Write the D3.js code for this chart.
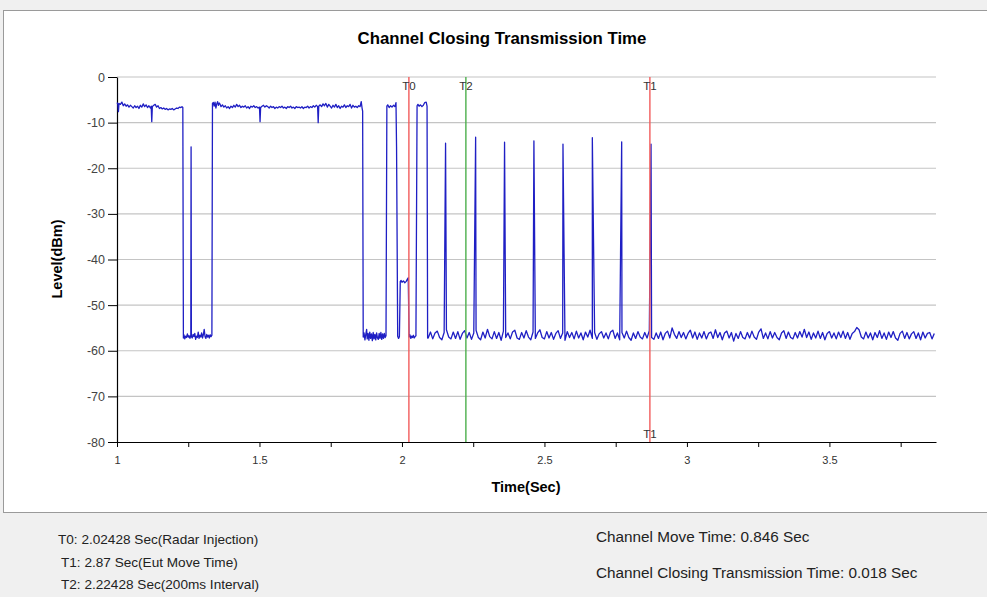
<!DOCTYPE html>
<html><head><meta charset="utf-8">
<script src="https://cdn.jsdelivr.net/npm/d3@7"></script>
<style>
html,body{margin:0;padding:0;background:#f0f0f0;}
svg{display:block;font-family:"Liberation Sans",Arial,sans-serif;}
</style></head>
<body>
<svg id="c" width="987" height="597"></svg>
<script>
// ---------- DATA ----------
const chartTitle = "Channel Closing Transmission Time";
const xDomain = [1, 3.874];
const yDomain = [-80, 0];
const xTickValues = [1, 1.25, 1.5, 1.75, 2, 2.25, 2.5, 2.75, 3, 3.25, 3.5, 3.75];
const xTickLabels = ["1", "", "1.5", "", "2", "", "2.5", "", "3", "", "3.5", ""];
const yTickValues = [0, -10, -20, -30, -40, -50, -60, -70, -80];
const yTickLabels = ["0", "-10", "-20", "-30", "-40", "-50", "-60", "-70", "-80"];

// Trace, first part: [time (s), level (dBm)]
const traceHead = [
[1.000,-5.6],[1.003,-5.9],[1.005,-7.6],[1.007,-5.8],[1.012,-6.0],[1.017,-5.5],[1.022,-6.3],[1.027,-5.9],
[1.032,-6.4],[1.037,-6.1],[1.042,-6.6],[1.047,-6.2],[1.052,-6.5],[1.057,-6.8],[1.062,-6.3],[1.067,-6.7],
[1.072,-6.4],[1.077,-6.9],[1.082,-6.2],[1.087,-6.6],[1.092,-5.9],[1.097,-6.5],[1.102,-6.1],[1.107,-6.7],
[1.112,-6.3],[1.117,-6.8],[1.120,-6.4],[1.122,-9.8],[1.124,-6.5],[1.129,-6.2],[1.134,-6.0],[1.139,-6.6],
[1.144,-6.3],[1.149,-6.9],[1.154,-6.7],[1.159,-7.0],[1.164,-6.8],[1.169,-7.1],[1.174,-6.9],[1.179,-7.2],
[1.184,-7.0],[1.189,-7.1],[1.194,-6.9],[1.199,-7.2],[1.204,-7.0],[1.209,-6.8],[1.214,-6.9],[1.219,-6.6],
[1.224,-6.7],[1.228,-6.5],[1.231,-6.7],[1.233,-57.2],
[1.235,-56.5],[1.238,-57.4],[1.241,-56.8],[1.244,-57.1],[1.247,-56.3],[1.250,-57.0],[1.253,-56.7],[1.256,-57.3],
[1.259,-56.6],[1.260,-15.3],[1.261,-56.9],[1.264,-57.2],[1.267,-56.4],[1.270,-56.9],[1.273,-56.2],[1.276,-57.5],
[1.279,-56.8],[1.282,-57.1],[1.285,-55.9],[1.288,-57.3],[1.291,-56.6],[1.294,-57.0],[1.297,-56.1],[1.300,-57.2],
[1.303,-56.5],[1.306,-55.3],[1.309,-56.9],[1.312,-57.3],[1.315,-56.4],[1.318,-57.0],[1.321,-56.6],[1.324,-57.2],
[1.327,-56.5],[1.330,-56.9],[1.333,-56.6],[1.335,-5.8],
[1.338,-5.6],[1.341,-6.4],[1.344,-5.5],[1.347,-6.8],[1.350,-5.9],[1.353,-5.4],[1.356,-6.2],[1.359,-5.7],
[1.362,-6.0],[1.365,-6.5],[1.370,-6.1],[1.375,-6.6],[1.380,-6.3],[1.385,-6.8],[1.390,-6.5],[1.395,-6.9],
[1.400,-6.4],[1.405,-6.7],[1.410,-6.2],[1.415,-6.6],[1.420,-6.0],[1.425,-6.5],[1.430,-6.2],[1.435,-6.7],
[1.440,-6.4],[1.445,-6.6],[1.450,-6.3],[1.455,-6.8],[1.460,-6.5],[1.465,-6.9],[1.470,-6.4],[1.475,-6.6],
[1.480,-6.3],[1.485,-6.7],[1.490,-6.5],[1.495,-6.8],[1.500,-6.6],[1.502,-9.8],[1.504,-6.7],[1.509,-6.4],
[1.514,-6.2],[1.519,-6.6],[1.524,-6.3],[1.529,-6.5],[1.534,-6.8],[1.539,-6.4],[1.544,-6.7],[1.549,-6.5],
[1.554,-6.9],[1.559,-6.6],[1.564,-6.8],[1.569,-6.5],[1.574,-6.7],[1.579,-6.4],[1.584,-6.8],[1.589,-6.6],
[1.594,-6.9],[1.599,-6.5],[1.604,-6.7],[1.609,-6.4],[1.614,-6.8],[1.619,-6.6],[1.624,-6.9],[1.629,-6.5],
[1.634,-6.7],[1.639,-6.6],[1.644,-6.8],[1.649,-6.5],[1.654,-6.9],[1.659,-6.6],[1.664,-6.7],[1.669,-6.4],
[1.674,-6.8],[1.679,-6.5],[1.684,-6.7],[1.689,-6.3],[1.694,-6.6],[1.699,-6.2],[1.704,-6.5],[1.706,-10.0],
[1.708,-6.4],[1.713,-6.1],[1.718,-6.5],[1.723,-5.9],[1.728,-6.3],[1.733,-5.8],[1.738,-6.6],[1.743,-6.0],
[1.748,-6.4],[1.753,-6.8],[1.758,-6.2],[1.763,-6.6],[1.768,-6.0],[1.773,-6.7],[1.778,-6.3],[1.783,-6.9],
[1.788,-6.4],[1.793,-6.6],[1.798,-6.1],[1.803,-6.7],[1.808,-6.3],[1.813,-6.5],[1.818,-6.0],[1.823,-6.8],
[1.828,-6.2],[1.833,-6.6],[1.838,-6.4],[1.843,-6.7],[1.848,-6.3],[1.853,-6.5],[1.857,-5.4],[1.860,-6.8],
[1.862,-7.5],[1.864,-57.0],
[1.867,-56.1],[1.870,-57.6],[1.873,-56.4],[1.876,-55.3],[1.878,-57.4],[1.881,-56.2],[1.884,-57.7],[1.887,-55.9],
[1.890,-57.3],[1.893,-56.3],[1.896,-57.8],[1.899,-56.0],[1.902,-57.4],[1.905,-56.4],[1.908,-57.6],[1.911,-56.1],
[1.914,-57.2],[1.917,-57.5],[1.920,-56.2],[1.923,-57.3],[1.926,-56.0],[1.929,-57.5],[1.932,-56.3],[1.935,-57.3],
[1.938,-56.2],[1.941,-57.1],[1.944,-56.7],[1.947,-6.4],
[1.950,-6.1],[1.955,-6.7],[1.960,-6.3],[1.965,-6.6],[1.970,-6.2],[1.975,-6.5],[1.979,-5.6],[1.981,-15.3],
[1.985,-56.8],[1.988,-57.3],[1.991,-56.9],[1.994,-44.8],[1.997,-44.6],[2.000,-45.0],[2.005,-44.7],[2.010,-45.1],
[2.015,-44.8],[2.019,-44.3],[2.022,-44.0],[2.025,-57.0],
[2.028,-56.5],[2.031,-57.3],[2.034,-56.8],[2.037,-57.1],[2.040,-56.6],[2.043,-57.2],[2.046,-56.9],[2.049,-56.7],
[2.053,-6.3],[2.056,-6.0],[2.060,-6.4],[2.065,-6.1],[2.070,-6.5],[2.075,-6.2],[2.080,-5.6],[2.085,-5.5],
[2.088,-6.4],[2.090,-57.2]
];

// Trace, tail part: noise floor sampled every tailStep seconds
const tailStart = 2.092;
const tailStep = 0.008;
const tailLevels = [
-57.2,-55.9,-57.4,-56.1,-55.7,-57.1,-57.6,-56.0,-55.4,-57.0,-57.4,-55.9,-57.3,-55.8,-57.5,-56.2,-55.6,-57.2,-56.0,-57.5,
-56.1,-55.5,-57.1,-57.6,-55.9,-57.2,-55.3,-56.9,-57.4,-55.8,-57.3,-56.0,-57.7,-55.7,-57.1,-56.1,-57.4,-55.9,-55.5,-57.2,
-57.5,-56.0,-57.2,-55.6,-57.0,-57.6,-55.9,-57.3,-56.1,-55.4,-57.1,-57.4,-55.8,-57.2,-56.0,-57.5,-56.2,-55.6,-57.3,-56.1,
-57.7,-55.8,-57.1,-56.0,-57.4,-55.7,-57.2,-56.1,-57.6,-55.9,-57.0,-55.5,-57.3,-56.0,-57.5,-56.3,-55.8,-57.2,-56.1,-57.4,
-55.9,-55.5,-57.3,-56.1,-57.6,-56.0,-57.2,-55.7,-57.1,-57.7,-56.1,-57.3,-55.8,-57.0,-57.4,-56.0,-57.2,-55.6,-57.1,-57.5,
-56.1,-57.3,-55.9,-57.6,-56.2,-55.7,-57.2,-55.0,-56.4,-57.3,-55.8,-57.1,-56.0,-57.4,-56.2,-55.5,-57.2,-55.9,-57.5,-56.1,
-57.2,-55.8,-57.4,-56.2,-55.9,-57.3,-55.4,-57.1,-56.0,-57.6,-56.1,-55.7,-57.2,-56.0,-57.9,-56.2,-57.3,-55.8,-57.1,-57.4,
-56.0,-57.2,-55.7,-57.0,-57.5,-55.9,-55.2,-57.3,-56.1,-57.4,-55.8,-57.2,-56.0,-57.1,-57.6,-56.1,-55.6,-57.3,-55.9,-57.1,
-57.4,-56.0,-57.2,-55.8,-57.0,-55.3,-57.1,-55.9,-57.5,-56.1,-57.2,-55.7,-57.3,-56.0,-57.6,-56.2,-55.8,-57.2,-56.1,-57.4,
-55.9,-57.1,-55.7,-57.3,-56.0,-57.5,-56.2,-55.8,-54.9,-55.4,-57.0,-57.4,-55.9,-57.2,-56.1,-57.6,-56.0,-57.1,-55.6,-57.3,
-56.1,-57.5,-55.9,-57.1,-55.8,-57.2,-57.7,-56.2,-55.7,-57.3,-56.0,-57.4,-56.3,-55.8,-57.3,-56.1,-57.6,-55.9,-57.2,-56.2,
-56.0,-57.4,-56.2,-57.3,-55.9,-57.5,-56.1,-57.2,-55.8,-57.1,-57.7,-56.0,-57.3,-56.2,-57.4,-55.8,-57.2,-56.1,-57.5,-56.3
];

// Short transmission bursts after radar injection
const spikeTimes  = [2.153, 2.2585, 2.360, 2.463, 2.565, 2.668, 2.771, 2.874];
const spikeLevels = [-14.5, -13.2, -14.3, -14.0, -14.7, -13.3, -14.2, -14.7];

// Markers
const markerNames = ["T0", "T2", "T1"];
const markerTimes = [2.02428, 2.22428, 2.87];
const markerColors = ["#f25c5c", "#4caf4c", "#f25c5c"];

// Footer texts
const footerLeft = [
  "T0: 2.02428 Sec(Radar Injection)",
  "T1: 2.87 Sec(Eut Move Time)",
  "T2: 2.22428 Sec(200ms Interval)"
];
const footerRight = [
  "Channel Move Time: 0.846 Sec",
  "Channel Closing Transmission Time: 0.018 Sec"
];

// ---------- BUILD SERIES ----------
let tail = tailLevels.map((v, i) => [tailStart + i * tailStep, v]);
spikeTimes.forEach((t, i) => tail.push([t, spikeLevels[i]]));
tail.sort((a, b) => a[0] - b[0]);
const trace = traceHead.concat(tail).filter(d => d[0] <= xDomain[1]);

// ---------- DRAW ----------
const svg = d3.select("#c");
const W = 987, H = 597;
const m = {left: 117, right: 936, top: 77, bottom: 442};

svg.append("rect").attr("x", 0).attr("y", 0).attr("width", W).attr("height", H).attr("fill", "#f0f0f0");
svg.append("rect").attr("x", 3.5).attr("y", 10.5).attr("width", 990).attr("height", 502)
  .attr("fill", "#ffffff").attr("stroke", "#9a9a9a").attr("stroke-width", 1);

const x = d3.scaleLinear().domain(xDomain).range([m.left, m.right]);
const y = d3.scaleLinear().domain(yDomain).range([m.bottom, m.top]);

// gridlines
svg.append("g").selectAll("line").data(yTickValues.filter(v => v !== -80)).join("line")
  .attr("x1", m.left).attr("x2", m.right)
  .attr("y1", d => y(d)).attr("y2", d => y(d))
  .attr("stroke", "#c4c4c4").attr("stroke-width", 1.2);

// axes
const xAxis = d3.axisBottom(x).tickValues(xTickValues)
  .tickFormat((d, i) => xTickLabels[i]).tickSize(5).tickSizeOuter(0);
const gx = svg.append("g").attr("transform", `translate(0,${m.bottom})`).call(xAxis);
gx.select(".domain").attr("stroke", "#000").attr("stroke-width", 1.2);
gx.selectAll(".tick line").attr("stroke", "#000");
gx.selectAll("text").attr("font-size", 11).attr("fill", "#333").attr("y", 11).attr("dy", "1.0em");

const yAxis = d3.axisLeft(y).tickValues(yTickValues)
  .tickFormat((d, i) => yTickLabels[i]).tickSize(9).tickSizeOuter(0);
const gy = svg.append("g").attr("transform", `translate(${m.left},0)`).call(yAxis);
gy.select(".domain").attr("stroke", "#000").attr("stroke-width", 1.2);
gy.selectAll(".tick line").attr("stroke", "#000");
gy.selectAll("text").attr("font-size", 12.5).attr("fill", "#444").attr("x", -12);

// trace
const line = d3.line().x(d => x(d[0])).y(d => y(d[1]));
svg.append("path").datum(trace).attr("d", line)
  .attr("fill", "none").attr("stroke", "#1f1fc4").attr("stroke-width", 1.3)
  .attr("stroke-linejoin", "round");

// markers
markerTimes.forEach((t, i) => {
  svg.append("line").attr("x1", x(t)).attr("x2", x(t)).attr("y1", m.top).attr("y2", m.bottom)
    .attr("stroke", markerColors[i]).attr("stroke-width", 1.4);
  svg.append("text").attr("x", x(t)).attr("y", m.top + 13).attr("text-anchor", "middle")
    .attr("font-size", 11.5).attr("fill", "#333").text(markerNames[i]);
});
svg.append("text").attr("x", x(markerTimes[2])).attr("y", m.bottom - 4).attr("text-anchor", "middle")
  .attr("font-size", 11.5).attr("fill", "#333").text(markerNames[2]);

// titles
svg.append("text").attr("x", 502).attr("y", 44).attr("text-anchor", "middle")
  .attr("font-size", 16.8).attr("font-weight", "bold").attr("fill", "#000").text(chartTitle);
svg.append("text").attr("x", 526).attr("y", 492).attr("text-anchor", "middle")
  .attr("font-size", 14.5).attr("font-weight", "bold").attr("fill", "#000").text("Time(Sec)");
svg.append("text").attr("transform", "translate(62,259) rotate(-90)").attr("text-anchor", "middle")
  .attr("font-size", 14.5).attr("font-weight", "bold").attr("fill", "#000").text("Level(dBm)");

// footer
const leftX = [58, 61, 61], leftY = [544, 567, 589];
footerLeft.forEach((s, i) => {
  svg.append("text").attr("x", leftX[i]).attr("y", leftY[i]).attr("font-size", 13.6).attr("fill", "#222").text(s);
});
const rightY = [542, 578];
footerRight.forEach((s, i) => {
  svg.append("text").attr("x", 596).attr("y", rightY[i]).attr("font-size", 15.3).attr("fill", "#222").text(s);
});
</script>
</body></html>
